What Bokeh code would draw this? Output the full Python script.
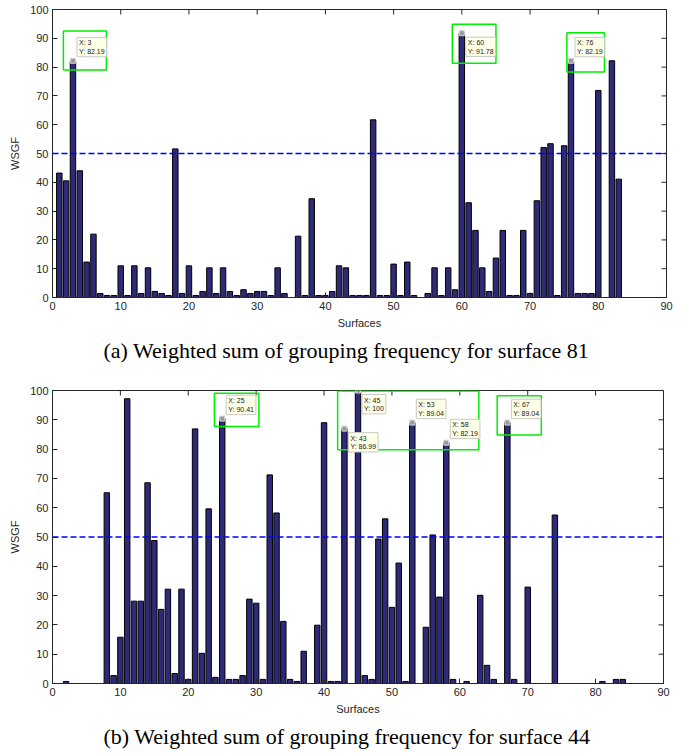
from bokeh.plotting import figure
from bokeh.models import Span, Label, Title, FixedTicker, Range1d
from bokeh.layouts import column
from bokeh.embed import file_html
from bokeh.resources import INLINE

# ---------------- data ----------------
surfaces_a = list(range(1, 85))
wsgf_a = [43.2, 40.5, 82.19, 44.0, 12.3, 22.0, 1.4, 0.7, 0.7, 11.0,
          0.7, 11.0, 1.4, 10.3, 2.1, 1.4, 0.7, 51.6, 1.4, 11.0,
          0.7, 2.1, 10.3, 1.4, 10.3, 2.1, 0.7, 2.7, 1.4, 2.1,
          2.1, 0.7, 10.3, 1.4, 0.0, 21.3, 0.7, 34.3, 0.7, 0.7,
          2.1, 11.0, 10.3, 0.7, 0.7, 0.7, 61.7, 0.7, 0.7, 11.6,
          0.7, 12.3, 0.7, 0.0, 1.4, 10.3, 0.7, 10.3, 2.7, 91.78,
          32.9, 23.3, 10.3, 2.1, 13.7, 23.3, 0.7, 0.7, 23.3, 1.4,
          33.6, 52.1, 53.4, 0.7, 52.7, 82.19, 1.4, 1.4, 1.4, 71.9,
          0.0, 82.19, 41.1, 0.0]
tips_a_x = [3, 60, 76]
tips_a_y = [82.19, 91.78, 82.19]
tips_a_above = [True, False, True]
boxes_a = [(1.6, 7.9, 79.0, 92.5), (58.6, 65.0, 81.3, 94.9), (75.4, 80.9, 78.3, 91.9)]
caption_a = "(a)  Weighted sum of grouping frequency for surface 81"

surfaces_b = list(range(1, 86))
wsgf_b = [0.0, 0.7, 0.0, 0.0, 0.0, 0.0, 0.0, 65.1, 2.7, 15.8,
          97.2, 28.1, 28.1, 68.5, 48.8, 25.3, 32.2, 3.4, 32.2, 1.4,
          86.9, 10.3, 59.6, 2.1, 90.41, 1.4, 1.4, 2.7, 28.8, 27.4,
          1.4, 71.2, 58.2, 21.2, 1.4, 0.7, 11.0, 0.0, 19.9, 89.0,
          0.7, 0.7, 86.99, 0.0, 100.0, 2.7, 1.4, 49.3, 56.2, 26.0,
          41.1, 0.7, 89.04, 0.0, 19.2, 50.7, 29.5, 82.19, 1.4, 0.0,
          0.7, 0.0, 30.1, 6.2, 1.4, 0.0, 89.04, 1.4, 0.0, 32.9,
          0.0, 0.0, 0.0, 57.5, 0.0, 0.0, 0.0, 0.0, 0.0, 0.0,
          0.7, 0.0, 1.4, 1.4, 0.0]
tips_b_x = [25, 43, 45, 53, 58, 67]
tips_b_y = [90.41, 86.99, 100, 89.04, 82.19, 89.04]
tips_b_above = [True, False, False, True, True, True]
boxes_b = [(23.85, 30.4, 87.7, 99.1), (42.0, 62.8, 79.8, 99.8), (65.5, 72.0, 84.8, 98.2)]
caption_b = "(b)  Weighted sum of grouping frequency for surface 44"

x_ticks = list(range(0, 91, 10))
y_ticks = list(range(0, 101, 10))
threshold = 50

BAR = "#2e2a78"
AXC = "#262626"
SANS = "Liberation Sans"
SERIF = "Liberation Serif"
TICK_PX = 5


def style_axis(ax, ticks):
    ax.ticker = FixedTicker(ticks=ticks)
    ax.major_tick_in = TICK_PX
    ax.major_tick_out = 0
    ax.minor_tick_line_color = None
    ax.axis_line_color = AXC
    ax.major_tick_line_color = AXC
    ax.major_label_text_color = AXC
    ax.major_label_text_font = SANS
    ax.major_label_text_font_size = "11px"
    ax.major_label_standoff = 4
    ax.axis_label_text_font = SANS
    ax.axis_label_text_font_size = "11px"
    ax.axis_label_text_font_style = "normal"
    ax.axis_label_text_color = AXC


def make_chart(xs, vals, tx, ty, tabove, boxes, caption, fw, fh, bl, bt, bb, br, cap_off):
    p = figure(frame_width=fw, frame_height=fh, output_backend="svg", toolbar_location=None,
               x_range=Range1d(0, 90), y_range=Range1d(0, 100),
               min_border_left=bl, min_border_top=bt, min_border_bottom=bb, min_border_right=br)
    p.grid.visible = False
    p.outline_line_color = AXC
    p.background_fill_color = "white"
    p.border_fill_color = "white"
    p.xaxis.axis_label = "Surfaces"
    p.yaxis.axis_label = "WSGF"
    style_axis(p.xaxis[0], x_ticks)
    style_axis(p.yaxis[0], y_ticks)
    p.xaxis.axis_label_standoff = 4
    p.yaxis.axis_label_standoff = 6

    # inward ticks on the top and right edges (box style)
    dy = TICK_PX * 100.0 / fh
    dx = TICK_PX * 90.0 / fw
    p.segment(x0=x_ticks, x1=x_ticks, y0=[100] * len(x_ticks), y1=[100 - dy] * len(x_ticks),
              line_color=AXC, line_width=1)
    p.segment(x0=[90] * len(y_ticks), x1=[90 - dx] * len(y_ticks), y0=y_ticks, y1=y_ticks,
              line_color=AXC, line_width=1)

    p.vbar(x=xs, top=vals, width=0.8, bottom=0, fill_color=BAR, line_color="black", line_width=1)
    p.add_layout(Span(location=threshold, dimension="width", line_color="#0000ff",
                      line_dash="6 3", line_width=1.5))

    # highlight boxes
    p.quad(left=[b[0] for b in boxes], right=[b[1] for b in boxes],
           bottom=[b[2] for b in boxes], top=[b[3] for b in boxes],
           fill_alpha=0, line_color="#00ee00", line_width=1.5)
    # data tips
    p.scatter(x=tx, y=ty, marker="square", size=5, fill_color="#9a9a9a", line_color="#d8d8d8")
    for x, y, ab in zip(tx, ty, tabove):
        p.add_layout(Label(x=x, y=y, x_offset=4, y_offset=4 if ab else -4,
                           text=f"X: {x:g}\nY: {y:g}", text_font=SANS, text_font_size="7px",
                           text_color="#202020", text_baseline="bottom" if ab else "top",
                           text_align="left", background_fill_color="#ffffe8",
                           border_line_color="#c8c8c8", border_line_width=1, padding=2))

    p.add_layout(Title(text=caption, text_font=SERIF, text_font_size="22px",
                       text_font_style="normal", text_color="black", align="left",
                       offset=cap_off, standoff=8), "below")
    return p


p1 = make_chart(surfaces_a, wsgf_a, tips_a_x, tips_a_y, tips_a_above, boxes_a, caption_a,
                614, 288, 52, 9, 87, 15, 51)
p2 = make_chart(surfaces_b, wsgf_b, tips_b_x, tips_b_y, tips_b_above, boxes_b, caption_b,
                611, 293, 51, 6, 66, 19, 51)

layout = column(p1, p2, spacing=0)
open("out.html", "w").write(file_html(layout, INLINE))
